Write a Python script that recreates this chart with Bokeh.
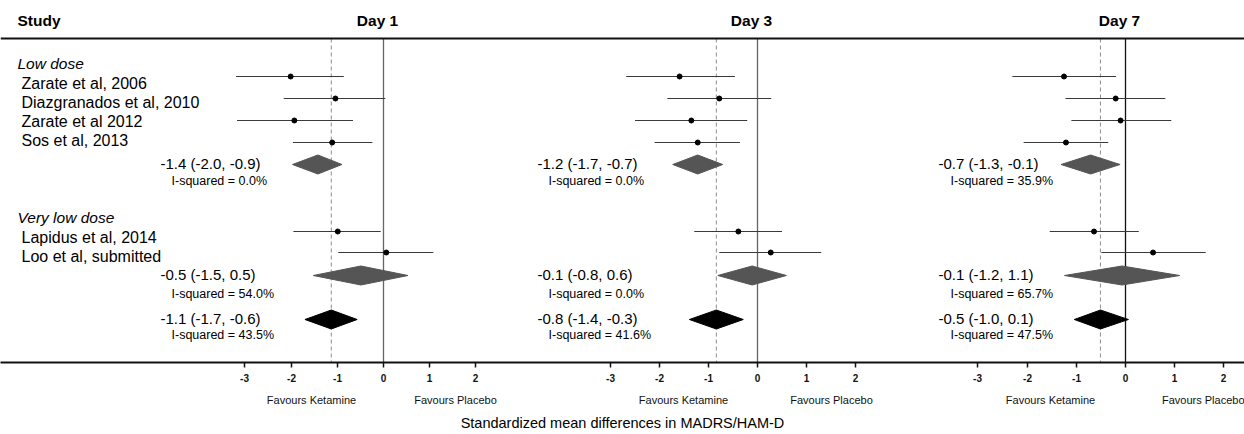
from bokeh.plotting import figure
from bokeh.models import Range1d, FixedTicker, LinearAxis, Span, Grid
from bokeh.embed import file_html
from bokeh.resources import INLINE
from bokeh.core.properties import value

# ---------------- data ----------------
studies = ["Zarate et al, 2006", "Diazgranados et al, 2010", "Zarate et al 2012",
           "Sos et al, 2013", "Lapidus et al, 2014", "Loo et al, submitted"]
groups = ["Low dose", "Very low dose"]
days = ["Day 1", "Day 3", "Day 7"]
ticks = [-3, -2, -1, 0, 1, 2]
favours = ["Favours Ketamine", "Favours Placebo"]
x_title = "Standardized mean differences in MADRS/HAM-D"

# study-level SMD (estimate, lower, upper)
day1_est = [-2.01, -1.04, -1.93, -1.11, -0.99, 0.06]
day1_lo = [-3.19, -2.16, -3.17, -1.96, -1.95, -0.98]
day1_hi = [-0.86, 0.04, -0.66, -0.24, -0.06, 1.08]

day3_est = [-1.59, -0.78, -1.35, -1.22, -0.39, 0.27]
day3_lo = [-2.68, -1.84, -2.50, -2.10, -1.29, -0.78]
day3_hi = [-0.46, 0.28, -0.21, -0.36, 0.50, 1.30]

day7_est = [-1.25, -0.20, -0.10, -1.21, -0.64, 0.56]
day7_lo = [-2.30, -1.22, -1.10, -2.07, -1.54, -0.49]
day7_hi = [-0.19, 0.81, 0.93, -0.35, 0.27, 1.63]

# pooled: [low dose, very low dose, overall]
day1_pool_est = [-1.42, -0.49, -1.13]
day1_pool_lo = [-1.97, -1.52, -1.70]
day1_pool_hi = [-0.90, 0.53, -0.57]
day1_isq = [0.0, 54.0, 43.5]

day3_pool_est = [-1.22, -0.11, -0.84]
day3_pool_lo = [-1.73, -0.81, -1.39]
day3_pool_hi = [-0.71, 0.59, -0.29]
day3_isq = [0.0, 0.0, 41.6]

day7_pool_est = [-0.71, -0.07, -0.51]
day7_pool_lo = [-1.31, -1.24, -1.04]
day7_pool_hi = [-0.11, 1.10, 0.06]
day7_isq = [35.9, 65.7, 47.5]

# ---------------- layout (pixels) ----------------
FONT = value("Liberation Sans")
W = 1244
H = 434
FRAME_H = 362
TOP_LINE = 38
study_line_y = [76, 98, 120, 142, 231, 252]
study_label_y = [83, 102, 121, 139.5, 237, 256]
group_label_y = [63, 217]
pool_y = [164, 275, 319]
pool_text_y = [163, 274, 318]
isq_text_y = [180, 293, 334]
DIAMOND_HALF = 9.5

panels = [
    dict(name="d1", day=days[0], est=day1_est, lo=day1_lo, hi=day1_hi,
         pest=day1_pool_est, plo=day1_pool_lo, phi=day1_pool_hi, isq=day1_isq,
         zero=383, scale=46.2, text_px=160, isq_px=171,
         fav=[-1.56, 1.55], zero_color="#666666"),
    dict(name="d3", day=days[1], est=day3_est, lo=day3_lo, hi=day3_hi,
         pest=day3_pool_est, plo=day3_pool_lo, phi=day3_pool_hi, isq=day3_isq,
         zero=757, scale=49.0, text_px=537, isq_px=548,
         fav=[-1.51, 1.52], zero_color="#666666"),
    dict(name="d7", day=days[2], est=day7_est, lo=day7_lo, hi=day7_hi,
         pest=day7_pool_est, plo=day7_pool_lo, phi=day7_pool_hi, isq=day7_isq,
         zero=1125, scale=49.2, text_px=938, isq_px=950,
         fav=[-1.52, 1.58], zero_color="#111111"),
]


def fmt(v):
    return f"{v:.1f}"


p = figure(width=W, height=H, x_range=Range1d(0, W), y_range=Range1d(FRAME_H, 0), title=None,
           output_backend="svg", toolbar_location=None,
           x_axis_location=None, y_axis_location=None,
           min_border_left=0, min_border_right=0, min_border_top=0,
           min_border_bottom=H - FRAME_H,
           outline_line_color=None, background_fill_color="white", border_fill_color="white")
p.center = [c for c in p.center if not isinstance(c, Grid)]

# each panel gets its own data scale over the shared frame
p.extra_x_ranges = {pn["name"]: Range1d(-pn["zero"] / pn["scale"], (W - pn["zero"]) / pn["scale"])
                    for pn in panels}

# axis ticks for all three panels (positions mapped through each panel's scale)
tick_pos, tick_txt, fav_pos, fav_txt = [], {}, [], {}
for pn in panels:
    for t in ticks:
        px = int(round(pn["zero"] + t * pn["scale"]))
        tick_pos.append(px)
        tick_txt[px] = str(t)
    for f, lab in zip(pn["fav"], favours):
        px = int(round(pn["zero"] + f * pn["scale"]))
        fav_pos.append(px)
        fav_txt[px] = lab

ax = LinearAxis(ticker=FixedTicker(ticks=tick_pos, minor_ticks=[]), major_label_overrides=tick_txt)
ax.axis_line_width = 2
ax.axis_line_color = "#111111"
ax.major_tick_line_color = "#111111"
ax.major_tick_line_width = 1.5
ax.major_tick_out = 5
ax.major_tick_in = 0
ax.minor_tick_line_color = None
ax.major_label_text_font = "Liberation Sans"
ax.major_label_text_font_size = "10px"
ax.major_label_text_font_style = "bold"
ax.major_label_text_color = "#111111"
ax.major_label_standoff = 6
p.add_layout(ax, "below")

ax2 = LinearAxis(ticker=FixedTicker(ticks=fav_pos, minor_ticks=[]), major_label_overrides=fav_txt,
                 axis_label=x_title)
ax2.axis_line_color = None
ax2.major_tick_line_color = None
ax2.minor_tick_line_color = None
ax2.major_tick_out = 0
ax2.major_tick_in = 0
ax2.major_label_text_font = "Liberation Sans"
ax2.major_label_text_font_size = "11px"
ax2.major_label_text_color = "#111111"
ax2.major_label_standoff = 9
ax2.axis_label_text_font = "Liberation Sans"
ax2.axis_label_text_font_size = "14.5px"
ax2.axis_label_text_font_style = "normal"
ax2.axis_label_text_color = "#000000"
ax2.axis_label_standoff = 6
p.add_layout(ax2, "below")

# top rule
p.add_layout(Span(location=TOP_LINE, dimension="width", line_color="#111111", line_width=2))

# left column
p.text(x=[17], y=[20], text=["Study"], text_font=FONT, text_font_size="15.5px",
       text_font_style="bold", text_baseline="middle", text_color="#000000")
p.text(x=[17, 17], y=group_label_y, text=groups, text_font=FONT, text_font_size="15.5px",
       text_font_style="italic", text_baseline="middle", text_color="#000000")
p.text(x=[21] * len(studies), y=study_label_y, text=studies, text_font=FONT,
       text_font_size="16px", text_baseline="middle", text_color="#000000")

for pn in panels:
    rn = pn["name"]
    to_u = lambda px, pn=pn: (px - pn["zero"]) / pn["scale"]

    # reference lines
    p.segment(x0=[0], y0=[TOP_LINE], x1=[0], y1=[FRAME_H], line_color=pn["zero_color"],
              line_width=1.3, x_range_name=rn)
    p.segment(x0=[pn["pest"][2]], y0=[TOP_LINE], x1=[pn["pest"][2]], y1=[FRAME_H],
              line_color="#8c8c8c", line_width=1, line_dash="4 3", x_range_name=rn)

    # header
    p.text(x=[0], y=[20], text=[pn["day"]], x_offset=-6, text_font=FONT, text_font_size="15.5px",
           text_font_style="bold", text_align="center", text_baseline="middle",
           text_color="#000000", x_range_name=rn)

    # study CIs + points
    p.segment(x0=pn["lo"], y0=study_line_y, x1=pn["hi"], y1=study_line_y,
              line_color="#3a3a3a", line_width=1, x_range_name=rn)
    p.scatter(x=pn["est"], y=study_line_y, size=5, color="#000000", x_range_name=rn)

    # pooled diamonds
    xs = [[lo, e, hi, e] for lo, e, hi in zip(pn["plo"], pn["pest"], pn["phi"])]
    ys = [[y, y - DIAMOND_HALF, y, y + DIAMOND_HALF] for y in pool_y]
    cols = ["#555555", "#555555", "#000000"]
    p.patches(xs=xs, ys=ys, fill_color=cols, line_color=cols, line_width=1, x_range_name=rn)

    labels = [f"{fmt(e)} ({fmt(lo)}, {fmt(hi)})" for e, lo, hi in zip(pn["pest"], pn["plo"], pn["phi"])]
    p.text(x=[to_u(pn["text_px"])] * 3, y=pool_text_y, text=labels, text_font=FONT,
           text_font_size="15px", text_align="left", text_baseline="middle",
           text_color="#000000", x_range_name=rn)
    isq = [f"I-squared = {v:.1f}%" for v in pn["isq"]]
    p.text(x=[to_u(pn["isq_px"])] * 3, y=isq_text_y, text=isq, text_font=FONT,
           text_font_size="12.5px", text_align="left", text_baseline="middle",
           text_color="#000000", x_range_name=rn)

open("out.html", "w").write(file_html(p, INLINE))
